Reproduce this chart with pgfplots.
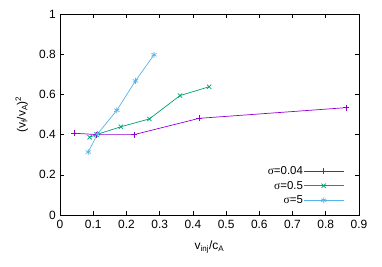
\documentclass[border=0pt]{standalone}
\usepackage{fontspec}
\setmainfont{Liberation Sans}
\newfontfamily\seriffont{Liberation Serif}
\usepackage{pgfplots}
\pgfplotsset{compat=1.18}
\definecolor{gpurple}{HTML}{9400D3}
\definecolor{ggreen}{HTML}{009E73}
\definecolor{gblue}{HTML}{56B4E9}
\begin{document}
\fontsize{12}{14}\selectfont
\begin{tikzpicture}
\useasboundingbox (0,0) rectangle (382bp,267bp);
\begin{axis}[
  at={(60bp,52bp)}, anchor=south west,
  scale only axis, width=299bp, height=201bp,
  xmin=0, xmax=0.9, ymin=0, ymax=1,
  xtick={0,0.1,...,0.9}, ytick={0,0.2,...,1},
  xticklabels={0,0.1,0.2,0.3,0.4,0.5,0.6,0.7,0.8,0.9},
  yticklabels={0,0.2,0.4,0.6,0.8,1},
  tick align=inside, major tick length=4bp,
  tick style={black, line width=0.6pt},
  axis line style={line width=0.6pt},
  /pgf/number format/assume math mode=true,
  tick label style={font=\fontsize{12}{14}\selectfont},
  xticklabel style={yshift=-1bp},
  xlabel={v\textsubscript{inj}/c\textsubscript{A}},
  ylabel={(v\textsubscript{f}/v\textsubscript{A})\textsuperscript{2}},
  label style={font=\fontsize{12}{14}\selectfont},
  xlabel style={yshift=-4bp},
  ylabel style={yshift=3bp},
  legend style={draw=none, fill=none, at={(0.96,0.035)}, anchor=south east,
    font=\fontsize{11.5}{12}\selectfont, row sep=3.5bp,
    nodes={inner sep=0.5bp, text height=8.5bp, text depth=1.5bp}},
  legend cell align=right,
  legend plot pos=right,
  legend image code/.code={\draw[mark repeat=2,mark phase=2] plot coordinates {(0cm,0cm) (0.7cm,0cm) (1.4cm,0cm)};},
  every axis plot/.append style={line width=0.7pt, mark size=3bp, mark options={solid, line width=0.7pt}},
]
\addplot[gpurple, mark=+] coordinates {
(0.042,0.407) (0.11,0.400) (0.223,0.400) (0.419,0.481) (0.861,0.534)
};
\addlegendentry{{\seriffont σ}=0.04}
\addplot[ggreen, mark=x] coordinates {
(0.089,0.387) (0.11,0.400) (0.183,0.439) (0.269,0.478) (0.361,0.594) (0.449,0.638)
};
\addlegendentry{{\seriffont σ}=0.5}
\addplot[gblue, mark=asterisk] coordinates {
(0.085,0.313) (0.113,0.403) (0.171,0.521) (0.227,0.667) (0.283,0.797)
};
\addlegendentry{{\seriffont σ}=5}
\end{axis}
\end{tikzpicture}
\end{document}
